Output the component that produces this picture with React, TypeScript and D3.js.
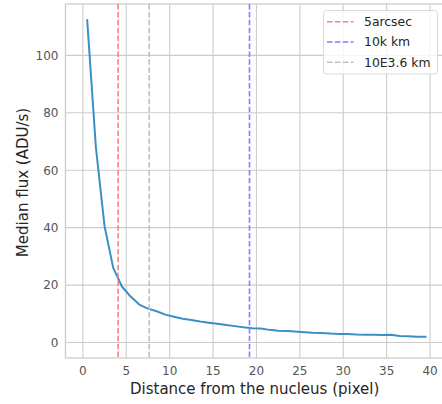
import React from "react";
import * as d3 from "d3";

const distances: number[] = [
  0.5, 1.5, 2.5, 3.5, 4.5, 5.5, 6.5, 7.5, 8.5, 9.5,
  10.5, 11.5, 12.5, 13.5, 14.5, 15.5, 16.5, 17.5, 18.5, 19.5,
  20.5, 21.5, 22.5, 23.5, 24.5, 25.5, 26.5, 27.5, 28.5, 29.5,
  30.5, 31.5, 32.5, 33.5, 34.5, 35.5, 36.5, 37.5, 38.5, 39.5,
];
const medianFlux: number[] = [
  112.3, 68, 40.5, 26, 19.5, 16, 13.2, 11.8, 10.9, 9.7,
  9.0, 8.3, 7.8, 7.3, 6.9, 6.5, 6.1, 5.7, 5.3, 5.0,
  4.9, 4.4, 4.1, 4.0, 3.8, 3.6, 3.4, 3.3, 3.1, 3.0,
  3.0, 2.8, 2.7, 2.7, 2.6, 2.7, 2.3, 2.2, 2.0, 2.0,
];
const vlineNames: string[] = ["5arcsec", "10k km", "10E3.6 km"];
const vlineValues: number[] = [4.06, 19.2, 7.64];
const vlineColors: string[] = ["#ff7f7f", "#7f7fff", "#bfbfbf"];
const xTicks: number[] = [0, 5, 10, 15, 20, 25, 30, 35, 40];
const yTicks: number[] = [0, 20, 40, 60, 80, 100];
const xLabel = "Distance from the nucleus (pixel)";
const yLabel = "Median flux (ADU/s)";

const W = 442;
const H = 404;
const left = 65.5;
const top = 4;
const bottom = 358;
const right = 447.4;

export default function App() {
  const x = d3.scaleLinear().domain([-2, 42]).range([left, right]);
  const y = d3.scaleLinear().domain([-5.4, 117.9]).range([bottom, top]);
  const pts = distances.map((d, i) => [d, medianFlux[i]] as [number, number]);
  const line = d3
    .line<[number, number]>()
    .x((d) => x(d[0]))
    .y((d) => y(d[1]));
  const font = "'DejaVu Sans', sans-serif";
  const gridColor = "#cccccc";
  const legendX = 323.5;
  const legendY = 10.5;
  const rowH = 20.3;
  // legend order: red, blue, gray
  return (
    <svg
      width={W}
      height={H}
      style={{ position: "absolute", left: 0, top: 0, background: "#fff" }}
      fontFamily={font}
    >
      <defs>
        <clipPath id="plotclip">
          <rect x={left} y={top} width={right - left} height={bottom - top} />
        </clipPath>
      </defs>
      <rect x={0} y={0} width={W} height={H} fill="#fff" />
      {/* grid */}
      {xTicks.map((t) => (
        <line
          key={"gx" + t}
          x1={x(t)}
          x2={x(t)}
          y1={top}
          y2={bottom}
          stroke={gridColor}
          strokeWidth={1.1}
        />
      ))}
      {yTicks.map((t) => (
        <line
          key={"gy" + t}
          x1={left}
          x2={right}
          y1={y(t)}
          y2={y(t)}
          stroke={gridColor}
          strokeWidth={1.1}
        />
      ))}
      {/* spines */}
      <rect
        x={left}
        y={top}
        width={right - left}
        height={bottom - top}
        fill="none"
        stroke={gridColor}
        strokeWidth={1.3}
      />
      <g clipPath="url(#plotclip)">
        <path
          d={line(pts) || ""}
          fill="none"
          stroke="#3a8fc6"
          strokeWidth={2}
          strokeLinejoin="round"
          strokeLinecap="round"
        />
        {vlineValues.map((v, i) => (
          <line
            key={"v" + i}
            x1={x(v)}
            x2={x(v)}
            y1={top}
            y2={bottom}
            stroke={vlineColors[i]}
            strokeWidth={1.6}
            strokeDasharray="5.5,2.4"
          />
        ))}
      </g>
      {/* tick labels */}
      {xTicks.map((t) => (
        <text
          key={"tx" + t}
          x={x(t)}
          y={374.5}
          textAnchor="middle"
          fontSize={12}
          fill="#555"
        >
          {t}
        </text>
      ))}
      {yTicks.map((t) => (
        <text
          key={"ty" + t}
          x={58.5}
          y={y(t)}
          dy="0.36em"
          textAnchor="end"
          fontSize={12}
          fill="#555"
        >
          {t}
        </text>
      ))}
      <text
        x={254.7}
        y={393.5}
        textAnchor="middle"
        fontSize={15}
        fill="#262626"
      >
        {xLabel}
      </text>
      <text
        transform={`translate(27.5,182.5) rotate(-90)`}
        textAnchor="middle"
        fontSize={15}
        fill="#262626"
      >
        {yLabel}
      </text>
      {/* legend */}
      <rect
        x={legendX}
        y={legendY}
        width={114}
        height={63.5}
        rx={3}
        fill="#fff"
        fillOpacity={0.8}
        stroke="#d9d9d9"
        strokeWidth={1}
      />
      {vlineNames.map((n, i) => {
        const cy = legendY + 11.2 + i * rowH;
        return (
          <g key={"lg" + i}>
            <line
              x1={legendX + 3.5}
              x2={legendX + 30}
              y1={cy}
              y2={cy}
              stroke={vlineColors[i]}
              strokeWidth={1.6}
              strokeDasharray="5.5,2.4"
            />
            <text
              x={legendX + 40.5}
              y={cy}
              dy="0.36em"
              fontSize={12.4}
              fill="#262626"
            >
              {n}
            </text>
          </g>
        );
      })}
    </svg>
  );
}
